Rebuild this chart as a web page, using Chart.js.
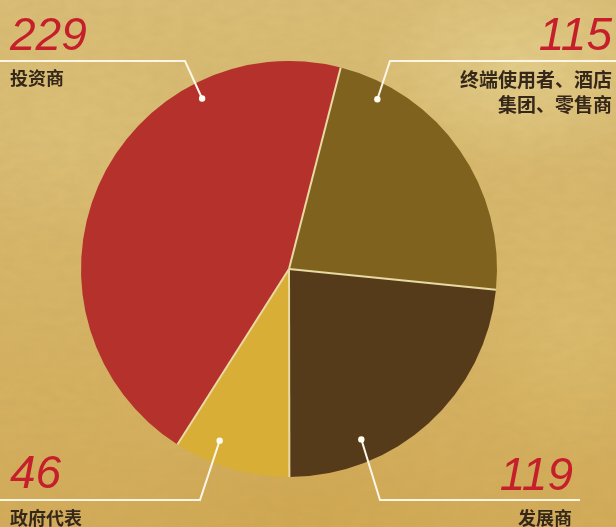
<!DOCTYPE html>
<html>
<head>
<meta charset="utf-8">
<script src="https://cdn.jsdelivr.net/npm/chart.js@4"></script>
<style>
html,body{margin:0;padding:0;}
body{width:616px;height:527px;overflow:hidden;position:relative;
background:
 radial-gradient(ellipse 220px 140px at 520px 70px, rgba(235,218,155,0.55), rgba(235,218,155,0) 70%),
 radial-gradient(ellipse 200px 160px at 70px 130px, rgba(225,200,130,0.40), rgba(225,200,130,0) 70%),
 radial-gradient(ellipse 160px 200px at 570px 330px, rgba(225,200,120,0.40), rgba(225,200,120,0) 70%),
 radial-gradient(ellipse 260px 140px at 300px 510px, rgba(205,160,70,0.35), rgba(205,160,70,0) 70%),
 linear-gradient(180deg,#d9bd76 0%,#d6b568 50%,#d2ab58 100%);}
#tex{position:absolute;left:0;top:0;width:616px;height:527px;opacity:0.18;
background-image:url("data:image/svg+xml;utf8,<svg xmlns='http://www.w3.org/2000/svg' width='616' height='527'><filter id='n'><feTurbulence type='fractalNoise' baseFrequency='0.06 0.12' numOctaves='3' seed='4'/><feColorMatrix values='0 0 0 0 0.45 0 0 0 0 0.33 0 0 0 0 0.1 0 0 0 1.2 -0.35'/></filter><rect width='616' height='527' filter='url(%23n)'/></svg>");}
#wrap{position:absolute;left:0;top:0;width:616px;height:527px;}
</style>
</head>
<body>
<div id="tex"></div>
<div id="wrap"><canvas id="c" width="616" height="527"></canvas></div>
<script>
// ---- data ----
const categories = ['终端使用者、酒店集团、零售商', '发展商', '政府代表', '投资商'];
const values = [115, 119, 46, 229];
const labelLines = [['终端使用者、酒店', '集团、零售商'], ['发展商'], ['政府代表'], ['投资商']];
const sliceColors = ['#80621f', '#553b1a', '#d8ae36', '#b5312b'];

// ---- annotation layout (decoration only) ----
const annot = [
  {dotAngle: 27.5, dotFrac: 0.92, elbow: [390, 61], lineTo: 616, side: 'right', numX: 612, numY: 50, labX: 612, labY: [87, 112], labSize: 19},
  {dotAngle: 157, dotFrac: 0.89, elbow: [380, 500], lineTo: 580, side: 'right', numX: 573, numY: 490, labX: 572, labY: [525], labSize: 18},
  {dotAngle: 202, dotFrac: 0.89, elbow: [200, 500], lineTo: 0, side: 'left', numX: 10, numY: 488, labX: 10, labY: [525], labSize: 18},
  {dotAngle: 333, dotFrac: 0.92, elbow: [185, 61], lineTo: 0, side: 'left', numX: 10, numY: 50, labX: 10, labY: [85], labSize: 18}
];

const leaderPlugin = {
  id: 'leaders',
  afterDatasetsDraw(chart) {
    const ctx = chart.ctx;
    const meta = chart.getDatasetMeta(0);
    // slice separators (inner borders only)
    ctx.save();
    ctx.strokeStyle = '#e9d9a3';
    ctx.lineWidth = 2;
    meta.data.forEach(arc => {
      ctx.beginPath();
      ctx.moveTo(arc.x, arc.y);
      ctx.lineTo(arc.x + arc.outerRadius * Math.cos(arc.startAngle), arc.y + arc.outerRadius * Math.sin(arc.startAngle));
      ctx.stroke();
    });
    ctx.restore();
    meta.data.forEach((arc, i) => {
      const a = annot[i];
      const r = arc.outerRadius * a.dotFrac;
      const rad = a.dotAngle * Math.PI / 180;
      const dx = arc.x + r * Math.sin(rad);
      const dy = arc.y - r * Math.cos(rad);
      ctx.save();
      ctx.strokeStyle = '#fbf6e6';
      ctx.lineWidth = 2;
      ctx.beginPath();
      ctx.moveTo(dx, dy);
      ctx.lineTo(a.elbow[0], a.elbow[1]);
      ctx.lineTo(a.lineTo, a.elbow[1]);
      ctx.stroke();
      ctx.fillStyle = '#fffdf2';
      ctx.beginPath();
      ctx.arc(dx, dy, 3.2, 0, Math.PI * 2);
      ctx.fill();
      // number
      ctx.fillStyle = '#c51f2b';
      ctx.font = 'italic 46px "Liberation Sans", Arial, sans-serif';
      ctx.textAlign = a.side === 'right' ? 'right' : 'left';
      ctx.textBaseline = 'alphabetic';
      ctx.fillText(String(values[i]), a.numX, a.numY);
      // label
      ctx.fillStyle = '#35271a';
      ctx.font = 'bold ' + a.labSize + 'px "Noto Sans CJK SC", sans-serif';
      labelLines[i].forEach((t, k) => ctx.fillText(t, a.labX, a.labY[k]));
      ctx.restore();
    });
  }
};

new Chart(document.getElementById('c'), {
  type: 'pie',
  data: {
    labels: categories,
    datasets: [{
      data: values,
      backgroundColor: sliceColors,
      borderWidth: 0
    }]
  },
  options: {
    responsive: false,
    animation: false,
    rotation: 14.4,
    layout: {padding: {left: 81, top: 61, right: 119, bottom: 50}},
    plugins: {legend: {display: false}, tooltip: {enabled: false}}
  },
  plugins: [leaderPlugin]
});
</script>
</body>
</html>
